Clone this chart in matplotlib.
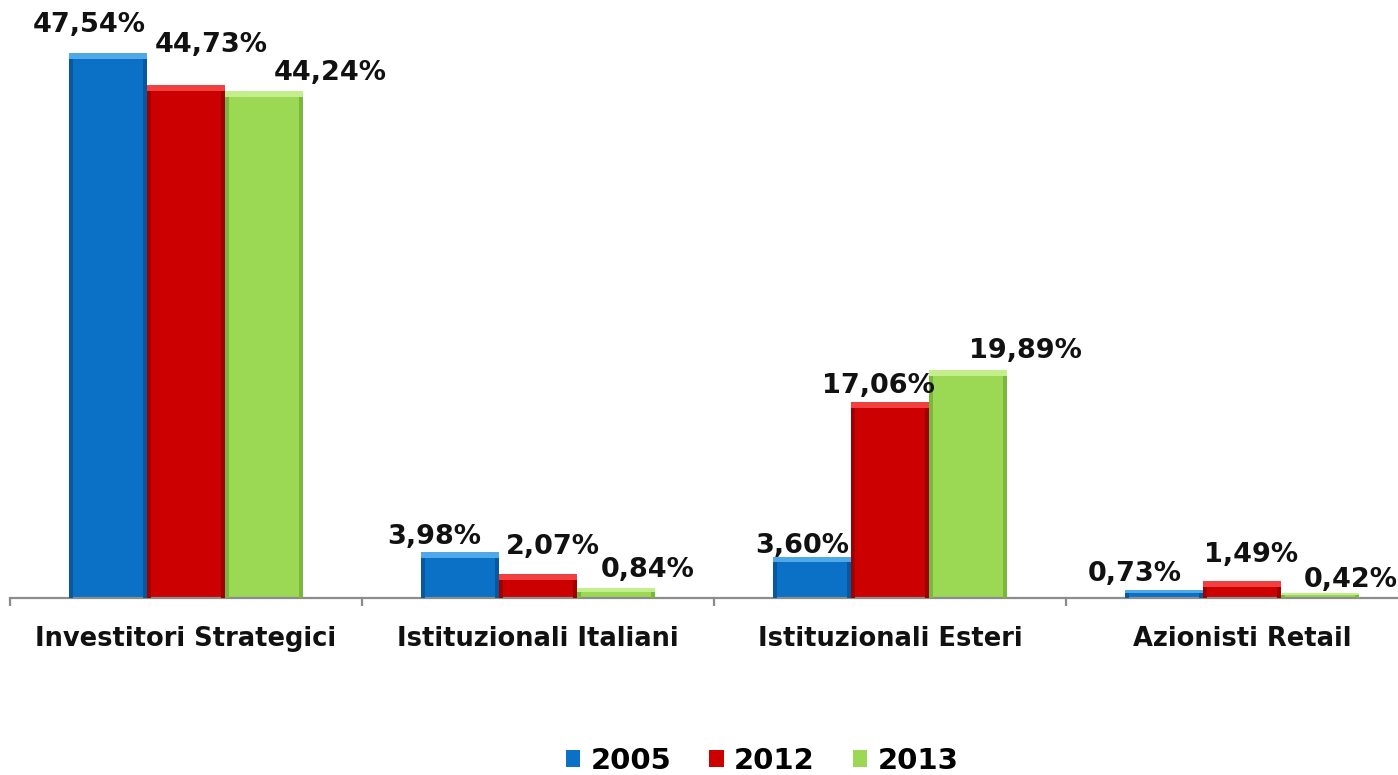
import numpy as np
from matplotlib import pyplot as plt

# dati del grafico
categorie = ["Investitori Strategici", "Istituzionali Italiani",
             "Istituzionali Esteri", "Azionisti Retail"]
anni = ["2005", "2012", "2013"]
v2005 = [47.54, 3.98, 3.60, 0.73]
v2012 = [44.73, 2.07, 17.06, 1.49]
v2013 = [44.24, 0.84, 19.89, 0.42]

colori = ['#0A71C6', '#CC0000', '#9BD955']
chiari = ['#4FA8E8', '#F04040', '#C2EE8C']
scuri = ['#07589C', '#9E0000', '#7BB73C']

# spostamenti delle etichette (pixel) come nell'originale
spost = [
    [(-19, 28), (-26, 15), (-10, 11), (-29, 16)],
    [(25, 40), (15, 27), (-12, 16), (9, 26)],
    [(66, 18), (32, 18), (57, 19), (31, 13)],
]

W, H = 1398, 775
fig = plt.figure(figsize=(W / 100, H / 100), dpi=100)
px_unit = 545 / 47.54  # pixel per unità
ymax = 50
ax = fig.add_axes([10 / W, 1 - 598 / H, 1408 / W, ymax * px_unit / H])

x = np.arange(len(categorie))
w = 78 / 352
serie = [v2005, v2012, v2013]
for i, vals in enumerate(serie):
    xs = x + (i - 1) * w
    ax.bar(xs, vals, width=w, color=colori[i], edgecolor='none', zorder=2,
           label=anni[i])
    # effetto smussato: bordi laterali scuri e fascia superiore chiara
    band = [min(0.5, v * 0.35) for v in vals]
    sw = w * 0.05
    ax.bar(xs - w / 2 + sw / 2, vals, width=sw, color=scuri[i], edgecolor='none', zorder=3)
    ax.bar(xs + w / 2 - sw / 2, vals, width=sw, color=scuri[i], edgecolor='none', zorder=3)
    ax.bar(xs, band, bottom=np.array(vals) - np.array(band), width=w,
           color=chiari[i], edgecolor='none', zorder=4)
    for j, v in enumerate(vals):
        etichetta = ("%.2f%%" % v).replace('.', ',')
        ax.annotate(etichetta, xy=(xs[j], v), xytext=spost[i][j],
                    textcoords='offset pixels', ha='center', va='center',
                    fontsize=19.5, fontweight='bold', color='#111111',
                    annotation_clip=False, zorder=5)

ax.set_xlim(-0.5, len(categorie) - 0.5)
ax.set_ylim(0, ymax)
ax.set_yticks([])
for s in ['top', 'right', 'left']:
    ax.spines[s].set_visible(False)
ax.spines['bottom'].set_color('#8C8C8C')
ax.spines['bottom'].set_linewidth(1.6)

ax.set_xticks(x)
ax.set_xticklabels(categorie, fontsize=18.5, fontweight='bold', color='#111111')
ax.tick_params(axis='x', which='major', length=0, pad=20)
ax.set_xticks(np.arange(-0.5, len(categorie)), minor=True)
ax.tick_params(axis='x', which='minor', length=6, width=1.6, color='#8C8C8C',
               direction='out')

leg = fig.legend(loc='center', bbox_to_anchor=(762 / W, 1 - 761 / H), ncol=3,
                 frameon=False, handlelength=0.5, handleheight=0.5,
                 handletextpad=0.35, columnspacing=1.3,
                 prop={'size': 21, 'weight': 'bold'})

plt.savefig('out.png', dpi=100)
